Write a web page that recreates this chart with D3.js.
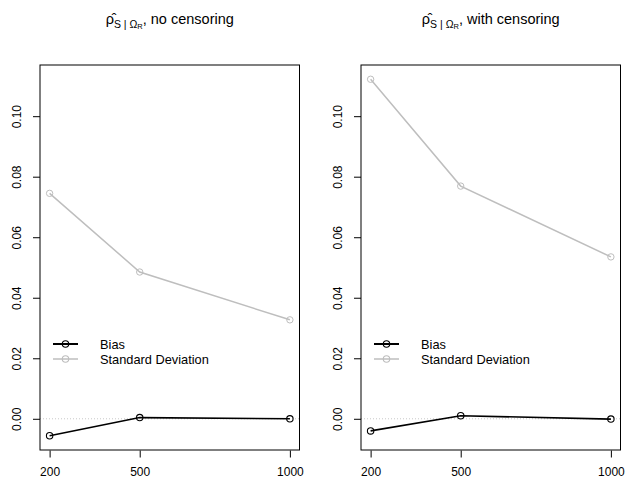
<!DOCTYPE html>
<html>
<head>
<meta charset="utf-8">
<script src="https://cdn.jsdelivr.net/npm/d3@7"></script>
<style>
  body { margin: 0; background: #fff; }
  text { font-family: "Liberation Sans", Arial, sans-serif; fill: #000; }
</style>
</head>
<body>
<div id="chart-area"></div>
<script>
// sample sizes
var sizes = [200, 500, 1000];
var yTicks = [0, 0.02, 0.04, 0.06, 0.08, 0.10];

// values
var biasNoCens = [-0.0056, 0.0004, 0.0000];
var sdNoCens = [0.0745, 0.0485, 0.0327];
var biasCens = [-0.0040, 0.0010, -0.0001];
var sdCens = [0.1122, 0.0769, 0.0535];

var panelTitles = ["no censoring", "with censoring"];

var width = 626, height = 484;
var svg = d3.select("#chart-area").append("svg")
    .attr("width", width)
    .attr("height", height);

var panels = [
    { left: 40, title: panelTitles[0], bias: biasNoCens, sd: sdNoCens },
    { left: 361, title: panelTitles[1], bias: biasCens, sd: sdCens }
];
var boxW = 259.5, boxTop = 65, boxBottom = 450;

// shared y range, like R with ylim from all values (4% padding)
var all = biasNoCens.concat(sdNoCens, biasCens, sdCens);
var yMin = d3.min(all), yMax = d3.max(all);
var pad = (yMax - yMin) * 0.04;
var y = d3.scaleLinear().domain([yMin - pad, yMax + pad]).range([boxBottom, boxTop]);

var xPad = (1000 - 200) * 0.04;

panels.forEach(function(p) {
    var x = d3.scaleLinear().domain([200 - xPad, 1000 + xPad]).range([p.left, p.left + boxW]);
    var g = svg.append("g");

    // dotted zero line
    g.append("line")
        .attr("x1", p.left).attr("x2", p.left + boxW)
        .attr("y1", y(0)).attr("y2", y(0))
        .attr("stroke", "#c8c8c8")
        .attr("stroke-dasharray", "1,2");

    var line = d3.line()
        .x(function(d, i) { return x(sizes[i]); })
        .y(function(d) { return y(d); });

    // SD series
    g.append("path")
        .attr("d", line(p.sd))
        .attr("fill", "none")
        .attr("stroke", "#bebebe")
        .attr("stroke-width", 1.5);
    g.selectAll(".sdpt").data(p.sd).enter().append("circle")
        .attr("cx", function(d, i) { return x(sizes[i]); })
        .attr("cy", function(d) { return y(d); })
        .attr("r", 3.2)
        .attr("fill", "none")
        .attr("stroke", "#bebebe");

    // Bias series
    g.append("path")
        .attr("d", line(p.bias))
        .attr("fill", "none")
        .attr("stroke", "#000")
        .attr("stroke-width", 1.6);
    g.selectAll(".bpt").data(p.bias).enter().append("circle")
        .attr("cx", function(d, i) { return x(sizes[i]); })
        .attr("cy", function(d) { return y(d); })
        .attr("r", 3.2)
        .attr("fill", "none")
        .attr("stroke", "#000")
        .attr("stroke-width", 1.1);

    // box
    g.append("rect")
        .attr("x", p.left).attr("y", boxTop)
        .attr("width", boxW).attr("height", boxBottom - boxTop)
        .attr("fill", "none")
        .attr("stroke", "#000");

    // x axis
    var xAxis = g.append("g")
        .attr("transform", "translate(0," + (boxBottom + 0.5) + ")")
        .call(d3.axisBottom(x).tickValues(sizes).tickSize(7).tickPadding(10).tickFormat(d3.format("d")));
    xAxis.select(".domain").remove();
    xAxis.selectAll("text").style("font-size", "12px").attr("font-family", null);

    // y axis
    var yAxis = g.append("g")
        .attr("transform", "translate(" + p.left + ",0)")
        .call(d3.axisLeft(y).tickValues(yTicks).tickSize(7).tickFormat(d3.format(".2f")));
    yAxis.select(".domain").remove();
    yAxis.selectAll(".tick text")
        .attr("transform", "rotate(-90)")
        .attr("x", 0).attr("y", -19)
        .attr("dy", 0)
        .style("text-anchor", "middle")
        .style("font-size", "12px")
        .attr("font-family", null);

    // legend
    var lx = p.left + 13, ly = 344;
    [["Bias", "#000", 2], ["Standard Deviation", "#bebebe", 1.5]].forEach(function(e, i) {
        var yy = ly + i * 15;
        g.append("line")
            .attr("x1", lx).attr("x2", lx + 25)
            .attr("y1", yy).attr("y2", yy)
            .attr("stroke", e[1]).attr("stroke-width", e[2]);
        g.append("circle")
            .attr("cx", lx + 12.5).attr("cy", yy).attr("r", 3.2)
            .attr("fill", "none").attr("stroke", e[1]).attr("stroke-width", 1.1);
        g.append("text")
            .attr("x", lx + 47).attr("y", yy + 4.5)
            .style("font-size", "12.8px")
            .text(e[0]);
    });

    // title: rho-hat with subscript S | Omega_R
    var t = g.append("text")
        .attr("x", p.left + boxW / 2).attr("y", 24)
        .style("text-anchor", "middle")
        .style("font-size", "14.5px");
    t.append("tspan").text("\u03C1\u0302");
    t.append("tspan").attr("dy", 3.5).style("font-size", "10.5px").text("S | \u03A9");
    t.append("tspan").attr("dy", 1.5).style("font-size", "7.5px").text("R");
    t.append("tspan").attr("dy", -5).text(", " + p.title);
});
</script>
</body>
</html>
